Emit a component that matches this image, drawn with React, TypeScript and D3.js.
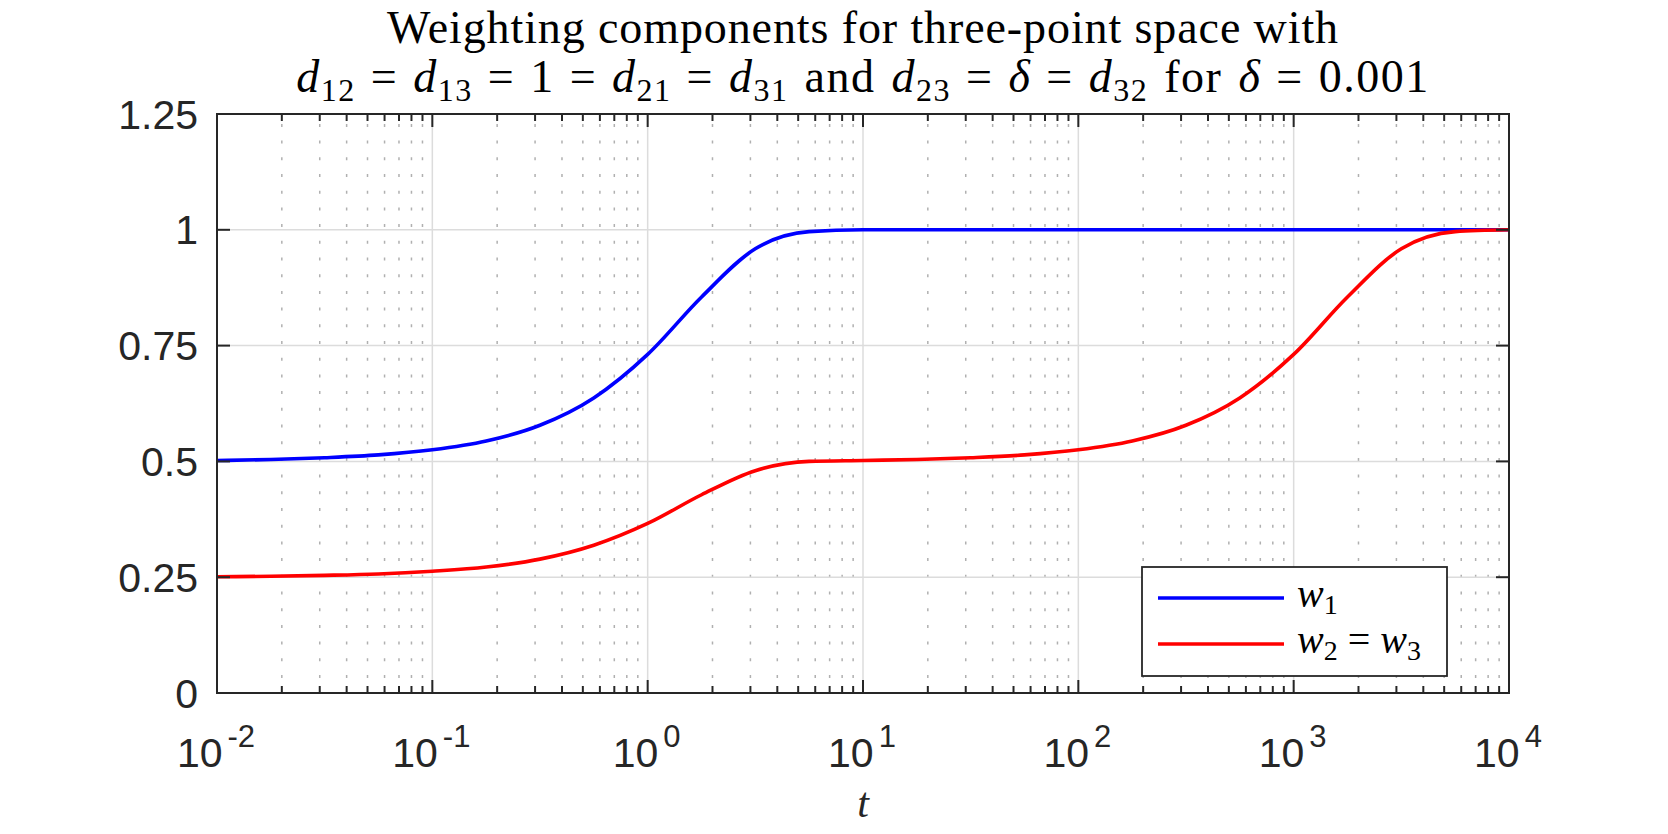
import { useRef, useEffect } from "react";
import * as d3 from "d3";

// sample times (quarter-decade steps) and weights
const tValues = [
  0.01, 0.0178, 0.0316, 0.0562, 0.1, 0.178, 0.316, 0.562, 1, 1.78, 3.16, 5.62, 10,
  17.8, 31.6, 56.2, 100, 178, 316, 562, 1000, 1778, 3162, 5623, 10000,
];
const w1Values = [
  0.502, 0.504, 0.508, 0.514, 0.525, 0.544, 0.578, 0.637, 0.731, 0.855, 0.959, 0.996, 1.0,
  1.0, 1.0, 1.0, 1.0, 1.0, 1.0, 1.0, 1.0, 1.0, 1.0, 1.0, 1.0,
];
const w23Values = [
  0.251, 0.252, 0.254, 0.257, 0.263, 0.272, 0.289, 0.319, 0.366, 0.428, 0.48, 0.5, 0.502,
  0.504, 0.508, 0.514, 0.525, 0.544, 0.578, 0.637, 0.731, 0.855, 0.959, 0.996, 1.0,
];

const xTickExps = ["-2", "-1", "0", "1", "2", "3", "4"];
const yTicks = [0, 0.25, 0.5, 0.75, 1, 1.25];
const yTickLabels = ["0", "0.25", "0.5", "0.75", "1", "1.25"];

const AX = "#262626";
const SANS = "'Liberation Sans', Arial, sans-serif";
const SERIF = "'Liberation Serif', 'Times New Roman', serif";

// [text, italic, subscript, extra left gap]
type Seg = [string, boolean, boolean, number];
const REL = 15;
const WORD = 16;
const titleLine2: Seg[] = [
  ["d", true, false, 0], ["12", false, true, 0], ["=", false, false, REL], ["d", true, false, REL],
  ["13", false, true, 0], ["=", false, false, REL], ["1", false, false, REL], ["=", false, false, REL],
  ["d", true, false, REL], ["21", false, true, 0], ["=", false, false, REL], ["d", true, false, REL],
  ["31", false, true, 0], ["and", false, false, WORD], ["d", true, false, WORD], ["23", false, true, 0],
  ["=", false, false, REL], ["δ", true, false, REL], ["=", false, false, REL], ["d", true, false, REL],
  ["32", false, true, 0], ["for", false, false, WORD], ["δ", true, false, WORD], ["=", false, false, REL],
  ["0.001", false, false, REL],
];

export default function App() {
  const svgRef = useRef<SVGSVGElement>(null);

  useEffect(() => {
    if (!svgRef.current) return;
    const svg = d3.select(svgRef.current);
    svg.selectAll("*").remove();

    const left = 217, right = 1509, top = 114, bottom = 693;
    const x = d3.scaleLog().domain([0.01, 10000]).range([left, right]);
    const y = d3.scaleLinear().domain([0, 1.25]).range([bottom, top]);

    const allTicks = x.ticks();
    const isMajor = (v: number) => Math.abs(Math.log10(v) - Math.round(Math.log10(v))) < 1e-9;
    const majors = allTicks.filter(isMajor);
    const minors = allTicks.filter((v) => !isMajor(v));

    svg.append("rect").attr("width", 1668).attr("height", 834).attr("fill", "#fff");

    // minor grid (dotted, vertical only)
    svg.append("g")
      .selectAll("line")
      .data(minors)
      .enter()
      .append("line")
      .attr("x1", (d) => x(d)).attr("x2", (d) => x(d))
      .attr("y1", bottom).attr("y2", top)
      .attr("stroke", "#b0b0b0")
      .attr("stroke-width", 1.5)
      .attr("stroke-dasharray", "3,13.7")
      .attr("stroke-dashoffset", -15);

    // major grid
    const grid = svg.append("g").attr("stroke", "#dcdcdc").attr("stroke-width", 1.5);
    grid.selectAll(".gx").data(majors).enter().append("line")
      .attr("x1", (d) => x(d)).attr("x2", (d) => x(d))
      .attr("y1", bottom).attr("y2", top);
    grid.selectAll(".gy").data(yTicks).enter().append("line")
      .attr("x1", left).attr("x2", right)
      .attr("y1", (d) => y(d)).attr("y2", (d) => y(d));

    // curves
    const line = d3.line<number>()
      .x((_, i) => x(tValues[i]))
      .y((d) => y(d))
      .curve(d3.curveMonotoneX);

    svg.append("path").datum(w1Values).attr("d", line)
      .attr("fill", "none").attr("stroke", "#0000ff").attr("stroke-width", 3.6);
    svg.append("path").datum(w23Values).attr("d", line)
      .attr("fill", "none").attr("stroke", "#ff0000").attr("stroke-width", 3.6);

    // box + ticks (inside, mirrored)
    const ax = svg.append("g").attr("stroke", AX).attr("stroke-width", 2);
    ax.append("rect")
      .attr("x", left).attr("y", top)
      .attr("width", right - left).attr("height", bottom - top)
      .attr("fill", "none");
    allTicks.forEach((v) => {
      const len = isMajor(v) ? 13 : 7;
      ax.append("line").attr("x1", x(v)).attr("x2", x(v)).attr("y1", bottom).attr("y2", bottom - len);
      ax.append("line").attr("x1", x(v)).attr("x2", x(v)).attr("y1", top).attr("y2", top + len);
    });
    yTicks.forEach((v) => {
      ax.append("line").attr("x1", left).attr("x2", left + 13).attr("y1", y(v)).attr("y2", y(v));
      ax.append("line").attr("x1", right).attr("x2", right - 13).attr("y1", y(v)).attr("y2", y(v));
    });

    // y tick labels
    svg.append("g")
      .selectAll("text")
      .data(yTicks)
      .enter()
      .append("text")
      .attr("x", left - 19)
      .attr("y", (d) => y(d) + 14.5)
      .attr("text-anchor", "end")
      .attr("font-family", SANS)
      .attr("font-size", 41)
      .attr("fill", AX)
      .text((_, i) => yTickLabels[i]);

    // x tick labels: 10^k
    majors.forEach((v, i) => {
      const t = svg.append("text")
        .attr("x", x(v) - 1)
        .attr("y", 767)
        .attr("text-anchor", "middle")
        .attr("font-family", SANS)
        .attr("fill", AX);
      t.append("tspan").attr("font-size", 41).text("10");
      t.append("tspan").attr("font-size", 31).attr("dy", -20).attr("dx", 5).text(xTickExps[i]);
    });

    // x label
    svg.append("text")
      .attr("x", (left + right) / 2)
      .attr("y", 817)
      .attr("text-anchor", "middle")
      .attr("font-family", SERIF)
      .attr("font-style", "italic")
      .attr("font-size", 42)
      .attr("fill", AX)
      .text("t");

    // title
    const cx = (left + right) / 2;
    svg.append("text")
      .attr("x", cx).attr("y", 43)
      .attr("text-anchor", "middle")
      .attr("font-family", SERIF)
      .attr("font-size", 46)
      .attr("letter-spacing", 0.9)
      .attr("fill", "#000")
      .text("Weighting components for three-point space with");

    const t2 = svg.append("text")
      .attr("x", cx).attr("y", 92)
      .attr("text-anchor", "middle")
      .attr("font-family", SERIF)
      .attr("font-size", 46)
      .attr("letter-spacing", 1.5)
      .attr("fill", "#000");
    let shifted = 0;
    titleLine2.forEach(([txt, ital, sub, gap]) => {
      const sp = t2.append("tspan")
        .attr("font-style", ital ? "italic" : "normal")
        .attr("dx", gap)
        .text(txt);
      if (sub) {
        sp.attr("font-size", 32).attr("dy", 9);
        shifted = 9;
      } else if (shifted) {
        sp.attr("dy", -shifted);
        shifted = 0;
      }
    });

    // legend
    const lg = svg.append("g");
    lg.append("rect")
      .attr("x", 1142).attr("y", 567)
      .attr("width", 305).attr("height", 109)
      .attr("fill", "#fff").attr("stroke", AX).attr("stroke-width", 1.8);
    const entries: [string, string][] = [["#0000ff", "1"], ["#ff0000", "2"]];
    entries.forEach(([c, k], i) => {
      const ly = 598 + i * 46;
      lg.append("line").attr("x1", 1158).attr("x2", 1284).attr("y1", ly).attr("y2", ly)
        .attr("stroke", c).attr("stroke-width", 3.6);
      const tx = lg.append("text")
        .attr("x", 1297).attr("y", ly + 9)
        .attr("font-family", SERIF).attr("font-size", 40).attr("fill", "#000");
      tx.append("tspan").attr("font-style", "italic").text("w");
      tx.append("tspan").attr("font-size", 28).attr("dy", 7).text(k);
      if (k === "2") {
        tx.append("tspan").attr("dy", -7).attr("dx", 10).text("=");
        tx.append("tspan").attr("font-style", "italic").attr("dx", 10).text("w");
        tx.append("tspan").attr("font-size", 28).attr("dy", 7).text("3");
      }
    });
  }, []);

  return (
    <svg
      ref={svgRef}
      width={1668}
      height={834}
      style={{ position: "absolute", left: 0, top: 0 }}
    />
  );
}
